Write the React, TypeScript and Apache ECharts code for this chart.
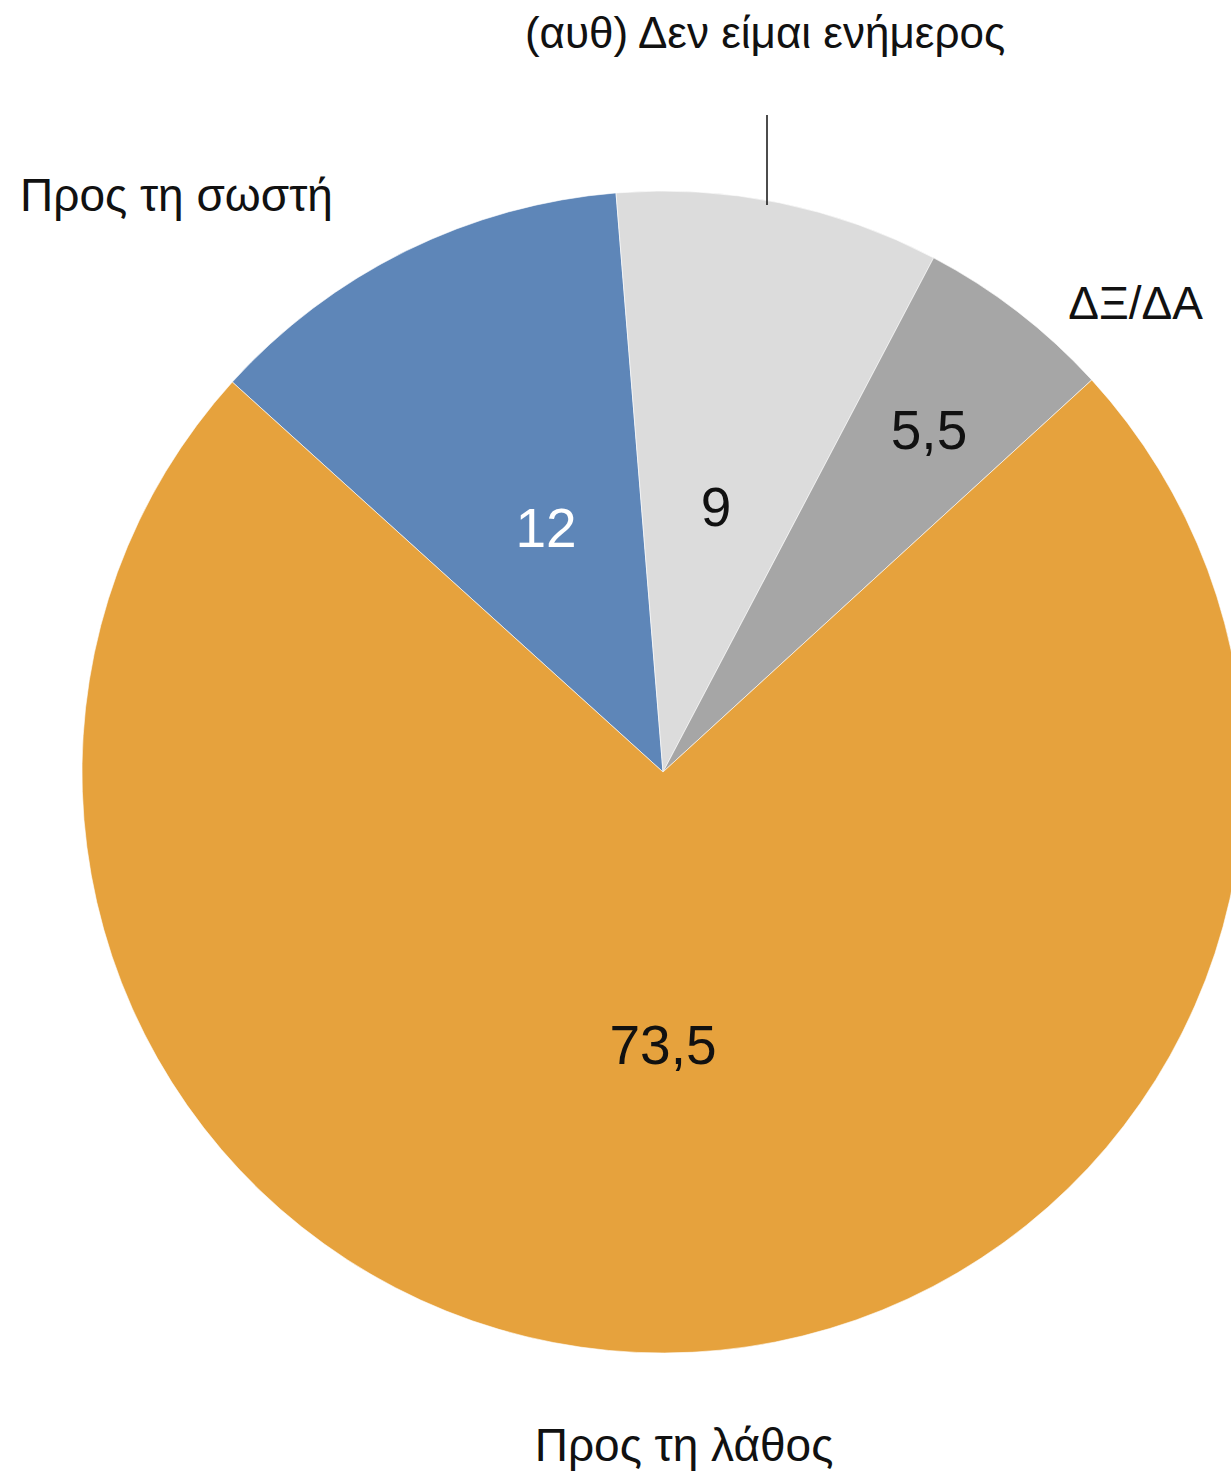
import React, { useEffect, useRef } from "react";
import * as echarts from "echarts";

const categories = ["Προς τη σωστή", "(αυθ) Δεν είμαι ενήμερος", "ΔΞ/ΔΑ", "Προς τη λάθος"];
const values = [12, 9, 5.5, 73.5];
const colors = ["#5E86B8", "#DCDCDC", "#A6A6A6", "#E6A23D"];
const valueColors = ["#ffffff", "#111111", "#111111", "#111111"];

// layout (pixels)
const W = 1231;
const H = 1471;
const CX = 663;
const CY = 772;
const R = 581;
const valueLabelPos = [
  [546, 528],
  [716, 507],
  [929, 430],
  [663, 1045],
];
const nameLabelPos: { x: number; y: number; align: string }[] = [
  { x: 20, y: 195, align: "left" },
  { x: 765, y: 32, align: "center" },
  { x: 1203, y: 303, align: "right" },
  { x: 684, y: 1445, align: "center" },
];
const FONT = "'Helvetica Neue', 'Liberation Sans', Arial, sans-serif";

export default function App() {
  const ref = useRef<HTMLDivElement>(null);
  useEffect(() => {
    if (!ref.current) return;
    const chart = echarts.init(ref.current, undefined, { renderer: "svg" });
    const total = values.reduce((a, b) => a + b, 0);
    const startAngle = 90 + 4.64 + (values[0] / total) * 360;
    chart.setOption({
      animation: false,
      backgroundColor: "#ffffff",
      series: [
        {
          type: "pie",
          center: [CX, CY],
          radius: [0, R],
          startAngle,
          clockwise: true,
          avoidLabelOverlap: false,
          itemStyle: { borderColor: "#ffffff", borderWidth: 0.6 },
          emphasis: { disabled: true },
          data: categories.map((name, i) => ({
            name,
            value: values[i],
            itemStyle: { color: colors[i] },
            label: { color: valueColors[i] },
          })),
          label: {
            show: true,
            position: "inside",
            fontFamily: FONT,
            fontSize: 55,
            formatter: (p: any) => String(p.value).replace(".", ","),
          },
          labelLine: { show: false },
          labelLayout: (p: any) => {
            const pos = valueLabelPos[p.dataIndex];
            return { x: pos[0], y: pos[1], align: "center", verticalAlign: "middle" };
          },
        },
      ],
      graphic: [
        ...categories.map((name, i) => ({
          type: "text",
          x: nameLabelPos[i].x,
          y: nameLabelPos[i].y,
          z: 100,
          style: {
            text: name,
            fontFamily: FONT,
            fontSize: i === 1 ? 44 : 46,
            fill: "#111111",
            align: nameLabelPos[i].align,
            verticalAlign: "middle",
          },
        })),
        {
          type: "line",
          z: 100,
          shape: { x1: 767, y1: 115, x2: 767, y2: 205 },
          style: { stroke: "#111111", lineWidth: 1.5 },
        },
      ],
    });
    return () => chart.dispose();
  }, []);
  return (
    <div
      ref={ref}
      style={{ position: "absolute", left: 0, top: 0, width: W, height: H }}
    />
  );
}
